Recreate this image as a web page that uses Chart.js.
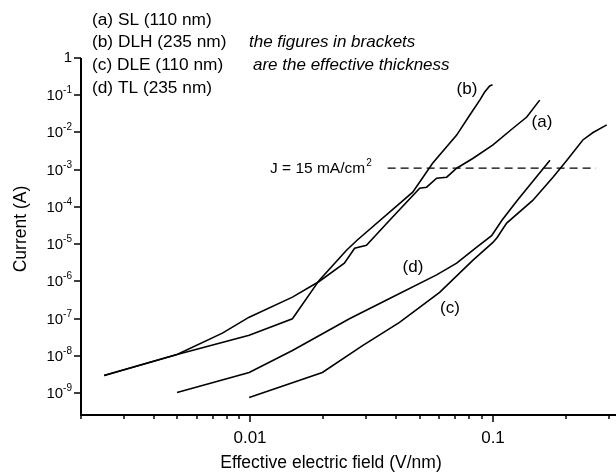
<!DOCTYPE html>
<html>
<head>
<meta charset="utf-8">
<script src="https://cdn.jsdelivr.net/npm/chart.js@4.4.1/dist/chart.umd.min.js"></script>
<style>
  html, body { margin: 0; padding: 0; background: #fff; }
  #wrap { width: 616px; height: 474px; }
</style>
</head>
<body>
<div id="wrap"><canvas id="myChart" width="616" height="474"></canvas></div>
<script>
  // (a) SL, 110 nm
  const fieldSL = [0.00249, 0.00498, 0.00766, 0.00988, 0.0149, 0.0192, 0.0244, 0.0269, 0.0301, 0.0375, 0.0499, 0.0533, 0.0586, 0.0645, 0.0709, 0.0826, 0.0998, 0.121, 0.138, 0.156];
  const currentSL = [3.0e-9, 1.1e-8, 4.1e-8, 1.1e-7, 3.8e-7, 1.0e-6, 3.1e-6, 7.8e-6, 9.4e-6, 4.4e-5, 3.2e-4, 3.4e-4, 5.9e-4, 6.3e-4, 1.1e-3, 2.0e-3, 4.6e-3, 1.3e-2, 2.6e-2, 7.4e-2];

  // (b) DLH, 235 nm
  const fieldDLH = [0.00249, 0.00498, 0.00988, 0.0149, 0.0192, 0.0249, 0.0276, 0.0467, 0.0564, 0.0709, 0.0802, 0.0883, 0.0925, 0.097, 0.0997];
  const currentDLH = [3.0e-9, 1.1e-8, 3.6e-8, 1.0e-7, 1.07e-6, 6.9e-6, 1.3e-5, 2.5e-4, 1.5e-3, 8.5e-3, 2.9e-2, 7.4e-2, 0.122, 0.177, 0.19];

  // (c) DLE, 110 nm
  const fieldDLE = [0.00988, 0.0198, 0.029, 0.0412, 0.0603, 0.0826, 0.0998, 0.104, 0.114, 0.146, 0.177, 0.202, 0.235, 0.259, 0.295];
  const currentDLE = [7.7e-10, 3.6e-9, 1.9e-8, 8.0e-8, 5.1e-7, 3.7e-6, 1.1e-5, 1.5e-5, 3.7e-5, 1.5e-4, 6.3e-4, 1.8e-3, 6.3e-3, 1.0e-2, 1.6e-2];

  // (d) TL, 235 nm
  const fieldTL = [0.00498, 0.00988, 0.0149, 0.0256, 0.0375, 0.0586, 0.0709, 0.0858, 0.0988, 0.109, 0.126, 0.172];
  const currentTL = [1.05e-9, 3.6e-9, 1.4e-8, 1.0e-7, 3.5e-7, 1.5e-6, 3.1e-6, 8.3e-6, 1.7e-5, 4.4e-5, 1.5e-4, 1.8e-3];

  // J = 15 mA/cm2 reference level
  const refField = [0.0368, 0.266];
  const refCurrent = [1.1e-3, 1.1e-3];

  // axis ticks
  const yExponents = [0, -1, -2, -3, -4, -5, -6, -7, -8, -9];
  const xMajor = [0.01, 0.1];
  const xMajorLabels = ['0.01', '0.1'];
  const xMinor = [0.002, 0.003, 0.004, 0.005, 0.006, 0.007, 0.008, 0.009,
                  0.02, 0.03, 0.04, 0.05, 0.06, 0.07, 0.08, 0.09, 0.2, 0.3];

  const legendLines = ['(a) SL (110 nm)', '(b) DLH (235 nm)', '(c) DLE (110 nm)', '(d) TL (235 nm)'];
  const noteLines = ['the figures in brackets', 'are the effective thickness'];

  const FONT = '"Liberation Sans", Arial, sans-serif';

  const toPoints = (xs, ys) => xs.map((v, i) => ({ x: v, y: ys[i] }));

  const curve = (label, xs, ys) => ({
    label: label,
    data: toPoints(xs, ys),
    borderColor: '#000',
    borderWidth: 1.6,
    pointRadius: 0,
    tension: 0,
    fill: false,
  });

  // 10 with a raised exponent, right aligned at xr
  const drawPower = (ctx, e, xr, yc) => {
    ctx.textBaseline = 'middle';
    ctx.textAlign = 'left';
    if (e === 0) {
      ctx.font = '15px ' + FONT;
      ctx.textAlign = 'right';
      ctx.fillText('1', xr, yc);
      return;
    }
    const sup = String(e);
    ctx.font = '10px ' + FONT;
    const wSup = ctx.measureText(sup).width;
    ctx.font = '15px ' + FONT;
    const wBase = ctx.measureText('10').width;
    const x0 = xr - wSup - wBase;
    ctx.fillText('10', x0, yc + 1);
    ctx.font = '10px ' + FONT;
    ctx.fillText(sup, x0 + wBase, yc - 5);
  };

  const axesAndText = {
    id: 'axesAndText',
    afterDatasetsDraw(chart) {
      const { ctx, chartArea: area, scales: { x, y } } = chart;
      ctx.save();
      ctx.strokeStyle = '#000';
      ctx.fillStyle = '#000';

      // axis lines
      ctx.lineWidth = 2;
      ctx.beginPath();
      ctx.moveTo(area.left, area.top);
      ctx.lineTo(area.left, area.bottom);
      ctx.lineTo(area.right, area.bottom);
      ctx.stroke();

      // y ticks and labels
      ctx.lineWidth = 1.5;
      yExponents.forEach((e) => {
        const py = Math.round(y.getPixelForValue(Math.pow(10, e)));
        ctx.beginPath();
        ctx.moveTo(area.left - 7, py);
        ctx.lineTo(area.left, py);
        ctx.stroke();
        drawPower(ctx, e, area.left - 9, py);
      });

      // x ticks
      xMinor.forEach((v) => {
        const px = Math.round(x.getPixelForValue(v));
        ctx.beginPath();
        ctx.moveTo(px, area.bottom);
        ctx.lineTo(px, area.bottom + 4);
        ctx.stroke();
      });
      ctx.font = '17px ' + FONT;
      ctx.textAlign = 'center';
      ctx.textBaseline = 'middle';
      xMajor.forEach((v, i) => {
        const px = Math.round(x.getPixelForValue(v));
        ctx.beginPath();
        ctx.moveTo(px, area.bottom);
        ctx.lineTo(px, area.bottom + 7);
        ctx.stroke();
        ctx.fillText(xMajorLabels[i], px, area.bottom + 23);
      });

      // axis titles
      ctx.font = '17.5px ' + FONT;
      ctx.fillText('Effective electric field (V/nm)', 331, 463);
      ctx.save();
      ctx.translate(21, 229);
      ctx.rotate(-Math.PI / 2);
      ctx.fillText('Current (A)', 0, 0);
      ctx.restore();

      // sample list and note
      ctx.textAlign = 'left';
      ctx.font = '17.3px ' + FONT;
      legendLines.forEach((t, i) => ctx.fillText(t, 92, 20 + i * 22.7));
      ctx.font = 'italic 17px ' + FONT;
      ctx.fillText(noteLines[0], 249, 42.7);
      ctx.fillText(noteLines[1], 253, 65.4);

      // curve labels
      ctx.font = '17px ' + FONT;
      ctx.textAlign = 'center';
      ctx.fillText('(b)', 467, 89);
      ctx.fillText('(a)', 542, 122);
      ctx.fillText('(d)', 413, 267);
      ctx.fillText('(c)', 450, 308);

      // reference current label
      ctx.textAlign = 'left';
      ctx.font = '15.5px ' + FONT;
      const jText = 'J = 15 mA/cm';
      const jy = y.getPixelForValue(refCurrent[0]);
      ctx.fillText(jText, 270, jy + 1);
      const wj = ctx.measureText(jText).width;
      ctx.font = '10px ' + FONT;
      ctx.fillText('2', 270 + wj + 1, jy - 5);

      ctx.restore();
    },
  };

  const ctx = document.getElementById('myChart').getContext('2d');
  const myChart = new Chart(ctx, {
    type: 'line',
    data: {
      datasets: [
        curve('(a) SL', fieldSL, currentSL),
        curve('(b) DLH', fieldDLH, currentDLH),
        curve('(c) DLE', fieldDLE, currentDLE),
        curve('(d) TL', fieldTL, currentTL),
        {
          label: 'J = 15 mA/cm2',
          data: toPoints(refField, refCurrent),
          borderColor: '#000',
          borderWidth: 1.3,
          borderDash: [8, 5],
          pointRadius: 0,
          fill: false,
        },
      ],
    },
    options: {
      responsive: false,
      animation: false,
      devicePixelRatio: 1,
      layout: { padding: { left: 81, right: 0, top: 58, bottom: 59 } },
      plugins: {
        legend: { display: false },
        tooltip: { enabled: false },
      },
      scales: {
        x: { type: 'logarithmic', min: 0.002, max: 0.322, display: false },
        y: { type: 'logarithmic', min: 2.6e-10, max: 1, display: false },
      },
    },
    plugins: [axesAndText],
  });
</script>
</body>
</html>
